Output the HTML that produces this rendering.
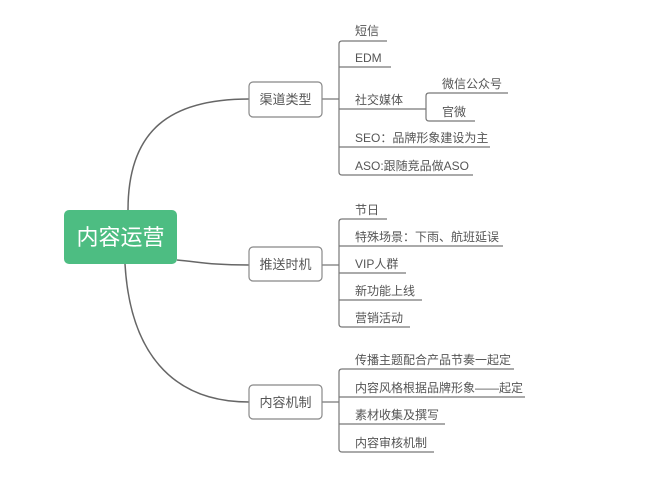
<!DOCTYPE html>
<html><head><meta charset="utf-8"><style>
body{margin:0;background:#fff;}
svg text{font-family:"Liberation Sans","Noto Sans CJK SC",sans-serif;font-size:12px;fill:#555;}
</style></head><body>
<svg width="649" height="474" viewBox="0 0 649 474" xmlns="http://www.w3.org/2000/svg">
<g fill="none" stroke="#666" stroke-width="1.5">
<path d="M128 210 C128 130 170 99 249 99"/>
<path d="M177 260 C200 262 210 265 249 265"/>
<path d="M125 264 C130 350 170 402 249 402"/>
</g>
<g fill="none" stroke="#777" stroke-width="1.2">
<!-- group1 -->
<path d="M322 99 H339"/>
<path d="M387 41 H342 Q339 41 339 44 V172 Q339 175 342 175 H473"/>
<path d="M339 67 H391"/><path d="M339 109 H426"/><path d="M339 147 H490"/>
<path d="M508 93 H429 Q426 93 426 96 V118 Q426 121 429 121 H475"/>
<!-- group2 -->
<path d="M322 265 H339"/>
<path d="M387 219 H342 Q339 219 339 222 V324 Q339 327 342 327 H410"/>
<path d="M339 246 H503"/><path d="M339 273 H406"/><path d="M339 300 H422"/>
<!-- group3 -->
<path d="M322 402 H339"/>
<path d="M514 369 H342 Q339 369 339 372 V449 Q339 452 342 452 H434"/>
<path d="M339 397 H525"/><path d="M339 424 H445"/>
</g>
<rect x="64" y="210" width="113" height="54" rx="5" fill="#4dbd82"/>
<text x="120.5" y="245" text-anchor="middle" style="font-size:22px;fill:#fff">内容运营</text>
<g fill="#fff" stroke="#888" stroke-width="1.2">
<rect x="249" y="82" width="73" height="35" rx="4"/>
<rect x="249" y="247" width="73" height="34" rx="4"/>
<rect x="249" y="385" width="73" height="34" rx="4"/>
</g>
<g style="font-size:13px">
<text x="285.5" y="104" text-anchor="middle" style="font-size:13px">渠道类型</text>
<text x="285.5" y="269" text-anchor="middle" style="font-size:13px">推送时机</text>
<text x="285.5" y="407" text-anchor="middle" style="font-size:13px">内容机制</text>
</g>
<text x="355" y="35">短信</text>
<text x="355" y="62">EDM</text>
<text x="355" y="104">社交媒体</text>
<text x="355" y="142">SEO：品牌形象建设为主</text>
<text x="355" y="170">ASO:跟随竞品做ASO</text>
<text x="442" y="88">微信公众号</text>
<text x="442" y="116">官微</text>
<text x="355" y="214">节日</text>
<text x="355" y="241">特殊场景：下雨、航班延误</text>
<text x="355" y="268">VIP人群</text>
<text x="355" y="295">新功能上线</text>
<text x="355" y="322">营销活动</text>
<text x="355" y="364">传播主题配合产品节奏一起定</text>
<text x="355" y="392">内容风格根据品牌形象——起定</text>
<text x="355" y="419">素材收集及撰写</text>
<text x="355" y="447">内容审核机制</text>
</svg>
</body></html>
